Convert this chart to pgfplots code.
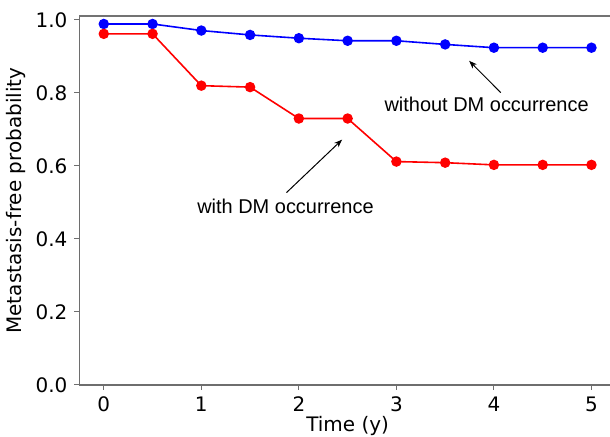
\documentclass[border=0pt]{standalone}
\usepackage{fontspec}
\setmainfont{DejaVu Sans}
\newfontfamily\arial{Liberation Sans}
\usepackage{pgfplots}
\pgfplotsset{compat=1.18}
\usetikzlibrary{arrows.meta}
\definecolor{spine}{HTML}{6E6E6E}

\begin{document}
\begin{tikzpicture}
\begin{axis}[
 scale only axis,width=268.7pt,height=184.65pt,
 xmin=-0.25,xmax=5.25,ymin=0,ymax=1.01,
 xtick={0,1,2,3,4,5},ytick={0,0.2,0.4,0.6,0.8,1.0},
 yticklabel style={/pgf/number format/fixed,/pgf/number format/fixed zerofill,/pgf/number format/precision=1},
 /pgf/number format/assume math mode=true,
 tick label style={font=\fontsize{10}{12}\selectfont},
 label style={font=\fontsize{10}{12}\selectfont},
 tick align=outside,tick pos=left,major tick length=2.5pt,
 every tick/.style={spine,line width=0.5pt},
 axis line style={spine,line width=0.6pt},
 xlabel={Time (y)},ylabel={Metastasis-free probability},
 xlabel style={yshift=5pt},ylabel style={yshift=-2pt},
 clip=false]
\addplot[blue,line width=0.8pt,mark=*,mark size=2.2pt] coordinates {
 (0,0.989) (0.5,0.989) (1,0.971) (1.5,0.959) (2,0.950) (2.5,0.943)
 (3,0.943) (3.5,0.933) (4,0.924) (4.5,0.924) (5,0.924)};
\addplot[red,line width=0.8pt,mark=*,mark size=2.2pt] coordinates {
 (0,0.962) (0.5,0.962) (1,0.820) (1.5,0.816) (2,0.730) (2.5,0.730)
 (3,0.612) (3.5,0.609) (4,0.603) (4.5,0.603) (5,0.603)};
\node[font=\arial\fontsize{10}{12}\selectfont] at (axis cs:3.925,0.770) {without DM occurrence};
\draw[-{Stealth[length=4pt,width=3pt]},line width=0.5pt] (axis cs:4.07,0.801) -- (axis cs:3.746,0.888);
\node[font=\arial\fontsize{10}{12}\selectfont] at (axis cs:1.863,0.490) {with DM occurrence};
\draw[-{Stealth[length=4pt,width=3pt]},line width=0.5pt] (axis cs:1.873,0.527) -- (axis cs:2.443,0.672);
\coordinate (BL) at (axis cs:-1.064,-0.140);
\coordinate (TR) at (axis cs:5.19,1.0547);
\coordinate (TL) at (axis cs:-0.25,1.01);
\coordinate (TRR) at (axis cs:5.25,1.01);
\end{axis}
\draw[black!55,line width=0.9pt] (TL) -- (TRR);
\pgfresetboundingbox
\path[use as bounding box] (BL) rectangle (TR);
\end{tikzpicture}
\end{document}
